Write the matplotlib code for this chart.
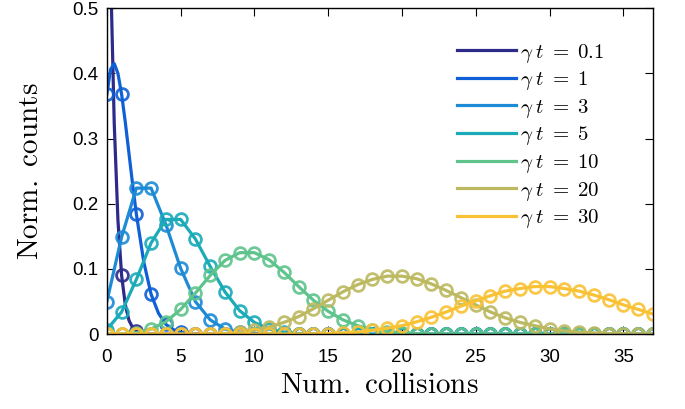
import numpy as np
import matplotlib
matplotlib.use("Agg")
import matplotlib.pyplot as plt

plt.rcParams['font.family'] = ['Liberation Sans', 'DejaVu Sans']
plt.rcParams['mathtext.fontset'] = 'cm'

# values, one per integer number of collisions (0..37)
n = np.arange(38)
gt_labels = ["0.1", "1", "3", "5", "10", "20", "30"]
counts_01 = [0.905, 0.090, 0.005] + [0.0] * 35
counts_1 = [0.368, 0.368, 0.184, 0.061, 0.015, 0.003, 0.0005, 0.0001] + [0.0] * 30
counts_3 = [0.050, 0.149, 0.224, 0.224, 0.168, 0.101, 0.050, 0.022, 0.008, 0.003,
            0.001, 0.0002] + [0.0] * 26
counts_5 = [0.007, 0.034, 0.084, 0.140, 0.176, 0.176, 0.146, 0.104, 0.065, 0.036,
            0.018, 0.008, 0.003, 0.001, 0.0005, 0.0002] + [0.0] * 22
counts_10 = [0.0, 0.0005, 0.002, 0.008, 0.019, 0.038, 0.063, 0.090, 0.113, 0.125,
             0.125, 0.114, 0.095, 0.073, 0.052, 0.035, 0.022, 0.013, 0.007, 0.004,
             0.002, 0.001, 0.0004, 0.0002, 0.0001] + [0.0] * 13
counts_20 = [0.0] * 6 + [0.0002, 0.0005, 0.001, 0.003, 0.006, 0.011, 0.018, 0.027,
                         0.039, 0.052, 0.065, 0.076, 0.084, 0.089, 0.089, 0.085, 0.077,
                         0.067, 0.056, 0.045, 0.034, 0.025, 0.018, 0.013, 0.008, 0.005,
                         0.003, 0.002, 0.001, 0.0007, 0.0004, 0.0002]
counts_30 = [0.0] * 12 + [0.0001, 0.0002, 0.0005, 0.001, 0.002, 0.003, 0.006, 0.009,
                          0.013, 0.019, 0.026, 0.034, 0.043, 0.051, 0.059, 0.066, 0.070,
                          0.073, 0.073, 0.070, 0.066, 0.060, 0.053, 0.045, 0.038, 0.031]

# finer samples of the two steep curves near zero
fine_x = [0, 0.25, 0.5, 0.75, 1, 1.25, 1.5, 1.75, 2, 2.5, 3, 3.5, 4, 4.5, 5, 5.5, 6, 7, 8]
fine_01 = [0.905, 0.561, 0.323, 0.175, 0.090, 0.045, 0.021, 0.010, 0.005, 0.001,
           0.0002, 0, 0, 0, 0, 0, 0, 0, 0]
fine_1 = [0.368, 0.406, 0.415, 0.400, 0.368, 0.325, 0.277, 0.229, 0.184, 0.111,
          0.061, 0.032, 0.015, 0.007, 0.003, 0.001, 0.0005, 0.0001, 0.0]

series = [counts_01, counts_1, counts_3, counts_5, counts_10, counts_20, counts_30]
colors = ["#2d2a8a", "#0f5fd6", "#1d8ad5", "#1aaab8", "#5ec48c", "#bcb960", "#f9c235"]

fig = plt.figure(figsize=(6.85, 4.09), dpi=100)
ax = fig.add_axes([0.156, 0.183, 0.797, 0.797])

for i, (vals, col, lab) in enumerate(zip(series, colors, gt_labels)):
    label = rf"$\gamma\;t\;\mathrm{{=}}\;{lab}$"
    if i == 0:
        ax.plot(fine_x, fine_01, color=col, lw=2.3, label=label)
    elif i == 1:
        ax.plot(fine_x, fine_1, color=col, lw=2.3, label=label)
    else:
        ax.plot(n, vals, color=col, lw=2.3, label=label)
    ax.plot(n, vals, ls="none", marker="o", ms=8.5, mfc="none", mec=col, mew=2,
            alpha=0.9)

ax.set_xlim(0, 37)
ax.set_ylim(0, 0.5)
ax.set_xticks(range(0, 36, 5))
ax.set_yticks([0, 0.1, 0.2, 0.3, 0.4, 0.5])
ax.set_yticklabels(["0", "0.1", "0.2", "0.3", "0.4", "0.5"])
ax.tick_params(direction="in", top=True, right=True, length=6, labelsize=13.5)
ax.tick_params(axis="x", pad=11)
ax.tick_params(axis="y", pad=6)
for s in ax.spines.values():
    s.set_linewidth(1.0)

ax.set_xlabel(r"$\mathrm{Num.\ collisions}$", fontsize=21, labelpad=3)
ax.set_ylabel(r"$\mathrm{Norm.\ counts}$", fontsize=21, labelpad=20)

ax.legend(loc="upper left", frameon=False, fontsize=15, handlelength=2.85,
          labelspacing=0.22, handletextpad=0.2, borderaxespad=0,
          bbox_to_anchor=(0.626, 0.923))

fig.savefig("out.png", dpi=100)
